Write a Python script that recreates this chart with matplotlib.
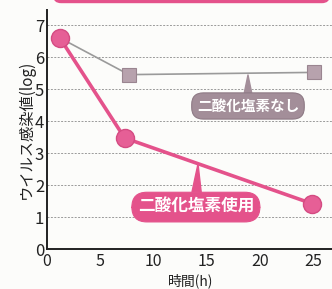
import matplotlib
matplotlib.use("Agg")
import matplotlib.pyplot as plt
from matplotlib.patches import FancyBboxPatch
from matplotlib.transforms import IdentityTransform

plt.rcParams['font.family'] = ['Noto Sans CJK JP', 'DejaVu Sans']

# data
x_with = [1.2, 7.3, 24.9]
y_with = [6.6, 3.47, 1.42]
x_without = [1.2, 7.7, 25.1]
y_without = [6.6, 5.45, 5.52]
xticks = [0, 5, 10, 15, 20, 25]
yticks = [0, 1, 2, 3, 4, 5, 6, 7]
label_with = "二酸化塩素使用"
label_without = "二酸化塩素なし"
xlabel = "時間(h)"
ylabel = "ウイルス感染値(log)"

PINK = "#e4528b"
GREY_BOX = "#a38e99"

fig = plt.figure(figsize=(3.32, 2.89), dpi=100)
fig.patch.set_facecolor("#fcfcfa")
ax = fig.add_axes([47/332, 40/289, 285/332, 239/289])
ax.set_facecolor("#fcfcfa")

ax.set_xlim(0, 26.8)
ax.set_ylim(0, 7.47)
for y in yticks[1:]:
    ax.axhline(y, color="#9a9a9a", lw=0.7, ls=(0, (2, 1.5)), zorder=1)

ax.plot(x_without, y_without, color="#9a9a9a", lw=1.2, zorder=2)
ax.plot(x_without[1:], y_without[1:], ls="none", marker="s", ms=10,
        mfc="#b7a2ad", mec="#9a8590", mew=0.8, zorder=3)
ax.plot(x_with, y_with, color=PINK, lw=2.6, marker="o", ms=13,
        mfc="#e65f96", mec="#d44b82", mew=1.0, zorder=4)

for s in ["top", "right"]:
    ax.spines[s].set_visible(False)
for s in ["left", "bottom"]:
    ax.spines[s].set_linewidth(1.4)
    ax.spines[s].set_color("#222222")
ax.set_xticks(xticks)
ax.set_yticks(yticks)
ax.tick_params(length=0, labelsize=12, colors="#222222", pad=2)
ax.tick_params(axis="x", pad=3, labelsize=11.5)
ax.set_xlabel(xlabel, fontsize=10, color="#222222", va="top")
ax.xaxis.set_label_coords(0.505, -0.102)
ax.set_ylabel(ylabel, fontsize=11, labelpad=0, color="#222222")

ax.annotate(label_without, xy=(18.9, 5.44), xytext=(18.9, 4.47),
            ha="center", va="center", color="white", fontsize=10.5, fontweight="bold",
            bbox=dict(boxstyle="round,pad=0.35,rounding_size=0.8", fc=GREY_BOX, ec="#8e7a85", lw=0.8),
            arrowprops=dict(arrowstyle="wedge,tail_width=0.5", fc=GREY_BOX, ec=GREY_BOX,
                            shrinkA=0, shrinkB=0), zorder=5)
ax.annotate(label_with, xy=(14.2, 2.66), xytext=(14.0, 1.31),
            ha="center", va="center", color="white", fontsize=12, fontweight="bold",
            bbox=dict(boxstyle="round,pad=0.35,rounding_size=0.9", fc=PINK, ec=PINK, lw=0.8),
            arrowprops=dict(arrowstyle="wedge,tail_width=0.55", fc=PINK, ec=PINK,
                            shrinkA=0, shrinkB=0), zorder=5)

top = FancyBboxPatch((53, 285.8), 277, 30, boxstyle="round,pad=0,rounding_size=8",
                     transform=IdentityTransform(), fc=PINK, ec="none")
fig.add_artist(top)

fig.savefig("out.png", dpi=100, facecolor=fig.get_facecolor())
